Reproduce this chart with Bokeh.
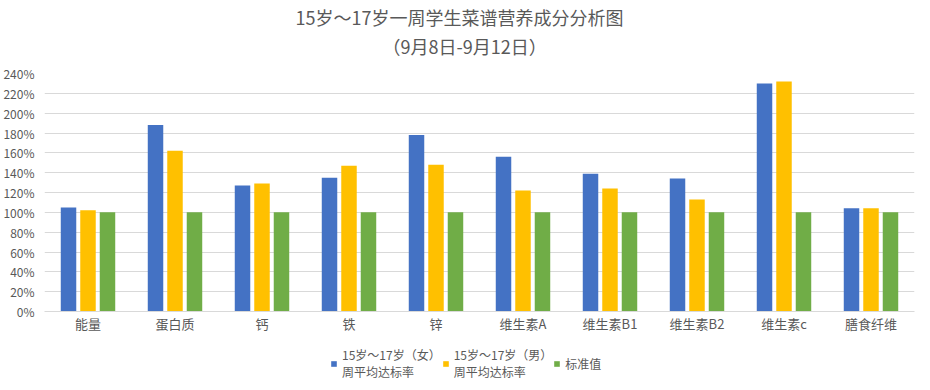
from bokeh.plotting import figure
from bokeh.layouts import column
from bokeh.models import (ColumnDataSource, FactorRange, Range1d, FixedTicker,
                          NumeralTickFormatter, Legend, LegendItem, Title)
from bokeh.transform import dodge
from bokeh.embed import file_html
from bokeh.resources import INLINE

categories = ["能量", "蛋白质", "钙", "铁", "锌", "维生素A", "维生素B1", "维生素B2", "维生素c", "膳食纤维"]
female_rate = [105, 188, 127, 135, 178, 156, 139, 134, 230, 104]
male_rate = [102, 162, 129, 147, 148, 122, 124, 113, 232, 104]
standard = [100, 100, 100, 100, 100, 100, 100, 100, 100, 100]
y_ticks = [0, 20, 40, 60, 80, 100, 120, 140, 160, 180, 200, 220, 240]
series_labels = ["15岁～17岁（女）\n周平均达标率", "15岁～17岁（男）\n周平均达标率", "标准值"]
series_colors = ["#4472C4", "#FFC000", "#70AD47"]
title_line1 = "15岁～17岁一周学生菜谱营养成分分析图"
title_line2 = "（9月8日-9月12日）"

FONT = "Noto Sans CJK SC"
TXT = "#595959"

src = ColumnDataSource(dict(
    cat=categories,
    f=[v / 100 for v in female_rate],
    m=[v / 100 for v in male_rate],
    s=[v / 100 for v in standard],
))

xr = FactorRange(*categories)
p = figure(x_range=xr, y_range=Range1d(0, 2.4),
           frame_width=870, frame_height=238,
           min_border_left=41, min_border_right=3, min_border_top=0, min_border_bottom=0,
           output_backend="svg", toolbar_location=None, title=None)
p.outline_line_color = None
p.background_fill_color = "white"
p.border_fill_color = "white"

bw = 0.178
off = 0.224
cols = ["f", "m", "s"]
offsets = [-off, 0, off]
for c, o, col in zip(cols, offsets, series_colors):
    p.vbar(x=dodge("cat", o, range=xr), top=c, width=bw, source=src,
           fill_color=col, line_color=None)

t0 = Title(text=" ", align="left", text_font=FONT, text_font_size="1px",
           text_color="white", standoff=12)
t2 = Title(text=title_line2, align="left", text_font=FONT, text_font_size="18px",
           text_font_style="normal", text_color=TXT, offset=338, standoff=0)
t1 = Title(text=title_line1, align="left", text_font=FONT, text_font_size="18px",
           text_font_style="normal", text_color=TXT, offset=251, standoff=2)
p.add_layout(t0, "above")
p.add_layout(t2, "above")
p.add_layout(t1, "above")

p.yaxis.ticker = FixedTicker(ticks=[v / 100 for v in y_ticks])
p.yaxis.formatter = NumeralTickFormatter(format="0%")
p.yaxis.axis_line_color = None
p.yaxis.major_tick_line_color = None
p.yaxis.minor_tick_line_color = None
p.yaxis.major_tick_out = 0
p.yaxis.major_tick_in = 0
p.yaxis.major_label_text_font = FONT
p.yaxis.major_label_text_font_size = "12px"
p.yaxis.major_label_text_color = TXT
p.yaxis.major_label_standoff = 10

p.xaxis.axis_line_color = "#D9D9D9"
p.xaxis.major_tick_line_color = None
p.xaxis.minor_tick_line_color = None
p.xaxis.major_tick_out = 0
p.xaxis.major_tick_in = 0
p.xaxis.major_label_text_font = FONT
p.xaxis.major_label_text_font_size = "13px"
p.xaxis.major_label_text_color = TXT
p.xaxis.major_label_standoff = 2

p.xgrid.grid_line_color = None
p.ygrid.grid_line_color = "#D9D9D9"
p.ygrid.grid_line_width = 1

# legend strip under the chart (its bars sit outside the visible y range)
lg = figure(width=914, height=45, x_range=xr, y_range=Range1d(10, 11),
            x_axis_type=None, y_axis_type=None,
            min_border_left=0, min_border_right=0, min_border_top=0, min_border_bottom=0,
            output_backend="svg", toolbar_location=None, title=None)
lg.outline_line_color = None
lg.border_fill_color = "white"
lg.background_fill_color = "white"
proxies = [lg.vbar(x="cat", top=c, width=bw, source=src, fill_color=col, line_color=None)
           for c, col in zip(cols, series_colors)]

legend = Legend(items=[LegendItem(label=lab, renderers=[r]) for lab, r in zip(series_labels, proxies)],
                orientation="horizontal", location=(286, 0),
                glyph_width=7, glyph_height=7, label_standoff=5, spacing=1,
                padding=0, margin=0, border_line_color=None, background_fill_alpha=0,
                label_text_font=FONT, label_text_font_size="12px", label_text_color=TXT,
                label_text_line_height=1.25, label_height=15)
lg.add_layout(legend, "center")

layout = column(p, lg, spacing=0)
open("out.html", "w").write(file_html(layout, INLINE))
